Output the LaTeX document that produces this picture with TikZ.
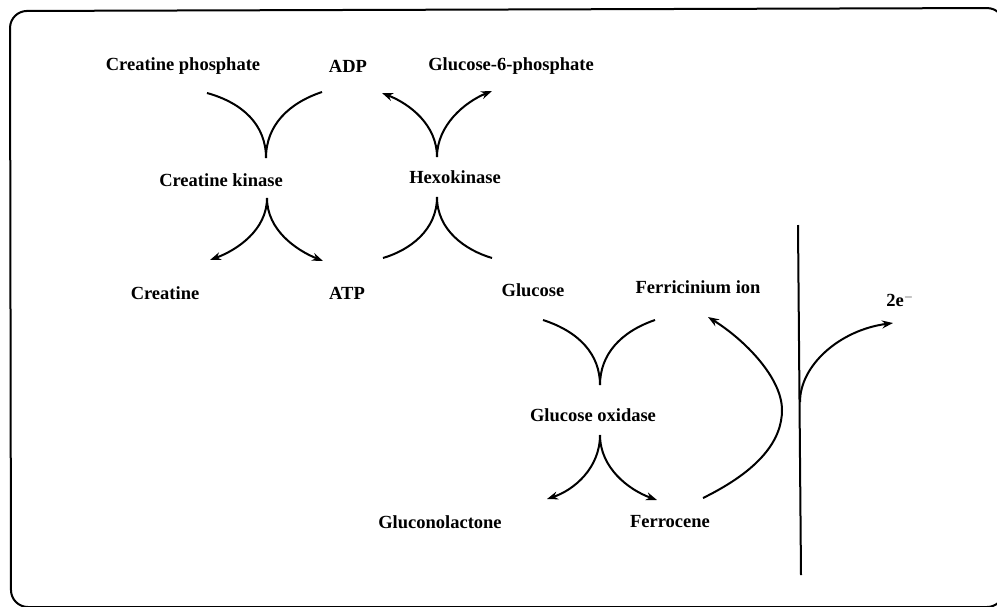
\documentclass[tikz,border=0pt]{standalone}
\usepackage{fontspec}
\setmainfont{Liberation Serif}
\usetikzlibrary{arrows.meta}
\begin{document}
\begin{tikzpicture}[x=1pt,y=-1pt,
  lbl/.style={font=\bfseries\fontsize{18.5}{22}\selectfont, inner sep=0pt, anchor=center},
  curve/.style={line width=2pt},
  arr/.style={curve, -{Stealth[length=11pt,width=8pt]}},
  frame/.style={line width=2pt, rounded corners=17pt}]
\useasboundingbox (0,0) rectangle (997,606);
\clip (0,0) rectangle (997,606);
\draw[frame] (10,11) -- (1004,8) -- (1004,607) -- (11,607) -- cycle;

% labels
\node[lbl] (cp)   at (183,66)  {Creatine phosphate};
\node[lbl] (adp)  at (348,66)  {ADP};
\node[lbl] (g6p)  at (511,66)  {Glucose-6-phosphate};
\node[lbl] (ck)   at (221,180) {Creatine kinase};
\node[lbl] (hk)   at (455,177) {Hexokinase};
\node[lbl] (cr)   at (165,293) {Creatine};
\node[lbl] (atp)  at (347,293) {ATP};
\node[lbl] (glc)  at (533,290) {Glucose};
\node[lbl] (fci)  at (698,287) {Ferricinium ion};
\node[lbl] (el)   at (900,300) {2e$^{-}$};
\node[lbl] (gox)  at (593,415) {Glucose oxidase};
\node[lbl] (glac) at (440,522) {Gluconolactone};
\node[lbl] (fc)   at (670,522) {Ferrocene};

% curve end points
\coordinate (ckTL) at (207,93);
\coordinate (ckTR) at (322,92);
\coordinate (ckT)  at (266,158);
\coordinate (ckB)  at (267,198);
\coordinate (ckBL) at (210,260);
\coordinate (ckBR) at (323,261);
\coordinate (hkT)  at (437,157);
\coordinate (hkTL) at (382,93);
\coordinate (hkTR) at (492,91);
\coordinate (hkB)  at (437,197);
\coordinate (hkBL) at (383,258);
\coordinate (hkBR) at (492,258);
\coordinate (gxTL) at (543,320);
\coordinate (gxTR) at (655,320);
\coordinate (gxT)  at (600,385);
\coordinate (gxB)  at (600,435);
\coordinate (gxBL) at (547,499);
\coordinate (gxBR) at (657,500);
\coordinate (fcOut) at (703,498);
\coordinate (fcMid) at (782,410);
\coordinate (fciIn) at (708,317);
\coordinate (elTop) at (798,225);
\coordinate (elBot) at (801,575);
\coordinate (elSrc) at (800,402);
\coordinate (elTip) at (893,323);

% creatine kinase
\draw[curve] (ckTL) .. controls (243,103) and (266,125) .. (ckT);
\draw[curve] (ckTR) .. controls (289,103) and (266,125) .. (ckT);
\draw[arr] (ckB) .. controls (267,230) and (237,250) .. (ckBL);
\draw[arr] (ckB) .. controls (267,230) and (296,250) .. (ckBR);

% hexokinase
\draw[arr] (hkT) .. controls (437,125) and (410,104) .. (hkTL);
\draw[arr] (hkT) .. controls (437,125) and (465,102) .. (hkTR);
\draw[curve] (hkB) .. controls (437,230) and (410,250) .. (hkBL);
\draw[curve] (hkB) .. controls (437,230) and (465,250) .. (hkBR);

% glucose oxidase
\draw[curve] (gxTL) .. controls (580,332) and (600,355) .. (gxT);
\draw[curve] (gxTR) .. controls (620,332) and (600,355) .. (gxT);
\draw[arr] (gxB) .. controls (600,468) and (574,490) .. (gxBL);
\draw[arr] (gxB) .. controls (600,468) and (629,490) .. (gxBR);

% ferrocene -> ferricinium
\draw[arr] (fcOut) .. controls (760,470) and (782,440) .. (fcMid)
  .. controls (782,378) and (745,340) .. (fciIn);

% electrode
\draw[curve] (elTop) -- (elBot);
\draw[arr] (elSrc) .. controls (800,365) and (840,330) .. (elTip);
\end{tikzpicture}
\end{document}
